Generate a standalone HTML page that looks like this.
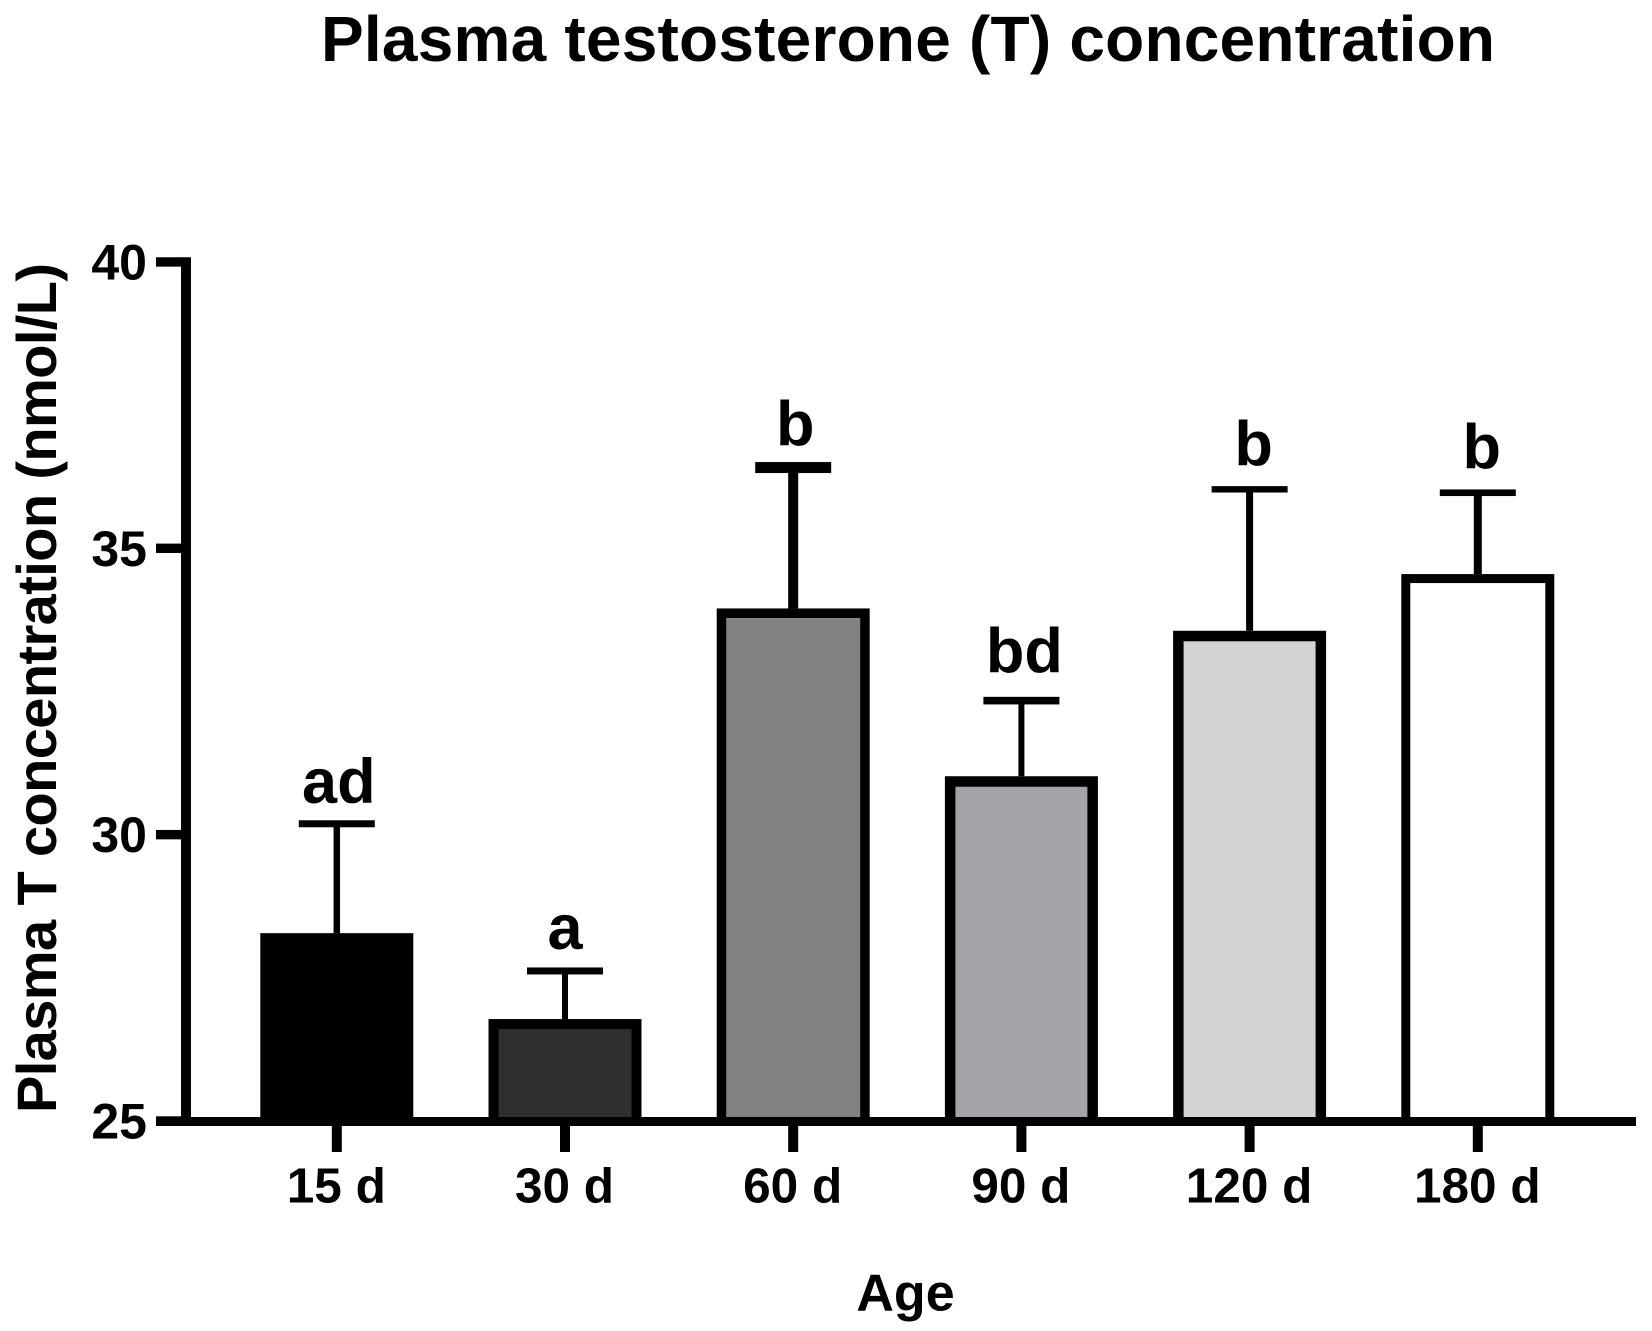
<!DOCTYPE html>
<html>
<head>
<meta charset="utf-8">
<title>Plasma testosterone (T) concentration</title>
<style>
  html, body { margin: 0; padding: 0; background: #fff; }
  svg { display: block; }
  text { font-family: "Liberation Sans", Arial, sans-serif; font-weight: bold; fill: #000; }
</style>
</head>
<body>
<svg id="chart" xmlns="http://www.w3.org/2000/svg" width="1652" height="1331" viewBox="0 0 1652 1331">
  <rect x="0" y="0" width="1652" height="1331" fill="#ffffff"/>
  <text x="321" y="61" font-size="64" textLength="1174">Plasma testosterone (T) concentration</text>
  <text transform="translate(56,1113) rotate(-90)" font-size="56" textLength="850">Plasma T concentration (nmol/L)</text>
  <text x="905.5" y="1310.5" font-size="52" text-anchor="middle">Age</text>
  <g id="bars"></g>
  <g id="axes"></g>
</svg>
<script>
const categories = ['15 d', '30 d', '60 d', '90 d', '120 d', '180 d'];
const means = [28.28, 26.78, 33.95, 31.02, 33.56, 34.55];
const errorTops = [30.19, 27.62, 36.41, 32.34, 36.03, 35.97];
const significance = ['ad', 'a', 'b', 'bd', 'b', 'b'];
const yTicks = [25, 30, 35, 40];

const barFills = ['#000000', '#2f2f2f', '#828282', '#a3a4a8', '#d4d4d4', '#ffffff'];
const barBorders = [10, 10, 9.5, 10.5, 10.5, 9];
const stemWidths = [6.5, 6, 10, 6, 7, 8];
const capHeights = [7, 7, 11, 7.6, 6.4, 6.6];
const letterGaps = [21, 22, 22, 28, 24, 24];
const letterShifts = [2, 0, 2, 3, 4, 4];

const NS = 'http://www.w3.org/2000/svg';
const barsLayer = document.getElementById('bars');
const axesLayer = document.getElementById('axes');

function y(v) { return 1121 - (v - 25) * 57.27; }
function x(i) { return 336.8 + i * 228.2; }

function make(tag, attrs, parent) {
  const el = document.createElementNS(NS, tag);
  for (const k in attrs) el.setAttribute(k, attrs[k]);
  parent.appendChild(el);
  return el;
}

const BAR_W = 153;
const CAP_W = 76;

categories.forEach(function (cat, i) {
  const cx = x(i);
  const top = y(means[i]);
  const bottom = y(25);
  const errY = y(errorTops[i]);
  const b = barBorders[i];

  const stem = make('rect', { x: cx - stemWidths[i] / 2, y: errY, width: stemWidths[i], height: top - errY, fill: '#000' }, barsLayer);
  
  

  const cap = make('rect', { x: cx - CAP_W / 2, y: errY - capHeights[i] / 2, width: CAP_W, height: capHeights[i], fill: '#000' }, barsLayer);
  
  

  const outer = make('rect', { x: cx - BAR_W / 2, y: top, width: BAR_W, height: bottom - top, fill: '#000' }, barsLayer);
  
  

  const inner = make('rect', { x: cx - BAR_W / 2 + b, y: top + b, width: BAR_W - 2 * b, height: Math.max(0, bottom - top - b), fill: barFills[i] }, barsLayer);
  
  

  const letter = make('text', { x: cx + letterShifts[i], y: errY - letterGaps[i], 'font-size': 63, 'text-anchor': 'middle' }, barsLayer);
  letter.textContent = significance[i];
  
  

  const tick = make('rect', { x: cx - 5, y: 1125, width: 10, height: 27, fill: '#000' }, axesLayer);
  
  

  const label = make('text', { x: cx - 0.5, y: 1202.5, 'font-size': 49.5, 'text-anchor': 'middle' }, axesLayer);
  label.textContent = cat;
  
  
});

const yLine = make('rect', { x: 181, y: y(40) - 4.7, width: 10, height: y(25) - y(40) + 9.4, fill: '#000' }, axesLayer);



const xLine = make('rect', { x: 156, y: 1117, width: 1480, height: 9, fill: '#000' }, axesLayer);



yTicks.forEach(function (v) {
  const t = make('rect', { x: 156, y: y(v) - 4.7, width: 26, height: 9.4, fill: '#000' }, axesLayer);
  
  

  const l = make('text', { x: 147, y: y(v) + 17.5, 'font-size': 50, 'text-anchor': 'end' }, axesLayer);
  l.textContent = String(v);
  
  
});
</script>
</body>
</html>
